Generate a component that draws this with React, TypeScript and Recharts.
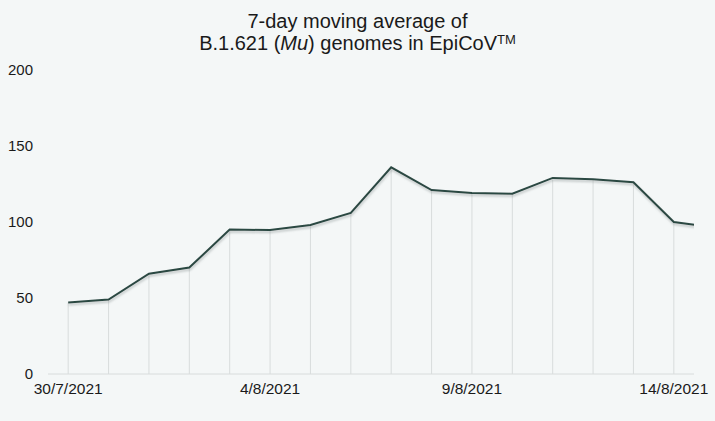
import { LineChart, Line, XAxis, YAxis, ReferenceLine } from 'recharts';

const dates = [
  '30/7/2021', '31/7/2021', '1/8/2021', '2/8/2021', '3/8/2021', '4/8/2021',
  '5/8/2021', '6/8/2021', '7/8/2021', '8/8/2021', '9/8/2021', '10/8/2021',
  '11/8/2021', '12/8/2021', '13/8/2021', '14/8/2021', '15/8/2021',
];
const genomes = [
  47, 49, 66, 70, 95, 94.7, 98, 106, 136, 121, 119, 118.6, 129, 128.2, 126.2, 100, 96.4,
];
const yTicks = [0, 50, 100, 150, 200];
const labelTicks = [0, 5, 10, 15];
const boundaryTicks = labelTicks.map((t) => t - 0.5);

const data = dates.map((date, i) => ({ i, date, value: genomes[i] }));

const FONT = '"Liberation Sans", Arial, sans-serif';
const TEXT = '#1a1a1a';
const GRID = '#d8dcdc';

export default function App() {
  return (
    <div
      style={{
        position: 'absolute',
        left: 0,
        top: 0,
        width: 715,
        height: 421,
        background: '#f4f7f7',
        fontFamily: FONT,
      }}
    >
      <div
        style={{
          position: 'absolute',
          top: 10,
          left: 0,
          width: 715,
          textAlign: 'center',
          fontSize: 20,
          lineHeight: '22px',
          color: TEXT,
        }}
      >
        <div>7-day moving average of</div>
        <div>
          B.1.621 (<i>Mu</i>) genomes in EpiCoV
          <span style={{ fontSize: 13, position: 'relative', top: -6 }}>TM</span>
        </div>
      </div>
      <LineChart
        width={715}
        height={421}
        data={data}
        margin={{ top: 70, right: 21, left: 0, bottom: 16 }}
      >
        <defs>
          <filter id="lineShadow" x="-5%" y="-20%" width="110%" height="140%">
            <feDropShadow dx="0.5" dy="2" stdDeviation="1" floodColor="#7a8584" floodOpacity="0.45" />
          </filter>
        </defs>
        <XAxis
          type="number"
          dataKey="i"
          domain={[-0.5, 15.5]}
          allowDataOverflow
          ticks={boundaryTicks}
          tick={false}
          tickSize={4}
          tickLine={{ stroke: GRID }}
          axisLine={{ stroke: GRID }}
          height={1}
        />
        <XAxis
          xAxisId="labels"
          type="number"
          dataKey="i"
          domain={[-0.5, 15.5]}
          allowDataOverflow
          ticks={labelTicks}
          interval={0}
          tickFormatter={(v) => dates[v]}
          axisLine={false}
          tickLine={false}
          tick={{ fill: TEXT, fontSize: 15.5, fontFamily: FONT }}
          height={30}
        />
        <YAxis
          domain={[0, 200]}
          ticks={yTicks}
          axisLine={false}
          tickLine={false}
          tickMargin={9}
          width={48}
          tick={{ fill: TEXT, fontSize: 15, fontFamily: FONT }}
        />
        {data.map((d) => (
          <ReferenceLine
            key={d.date}
            segment={[
              { x: d.i, y: 0 },
              { x: d.i, y: d.value },
            ]}
            stroke={GRID}
            strokeWidth={1}
          />
        ))}
        <Line
          type="linear"
          dataKey="value"
          stroke="#2c4843"
          strokeWidth={2}
          dot={false}
          activeDot={false}
          filter="url(#lineShadow)"
          isAnimationActive={false}
        />
      </LineChart>
    </div>
  );
}
